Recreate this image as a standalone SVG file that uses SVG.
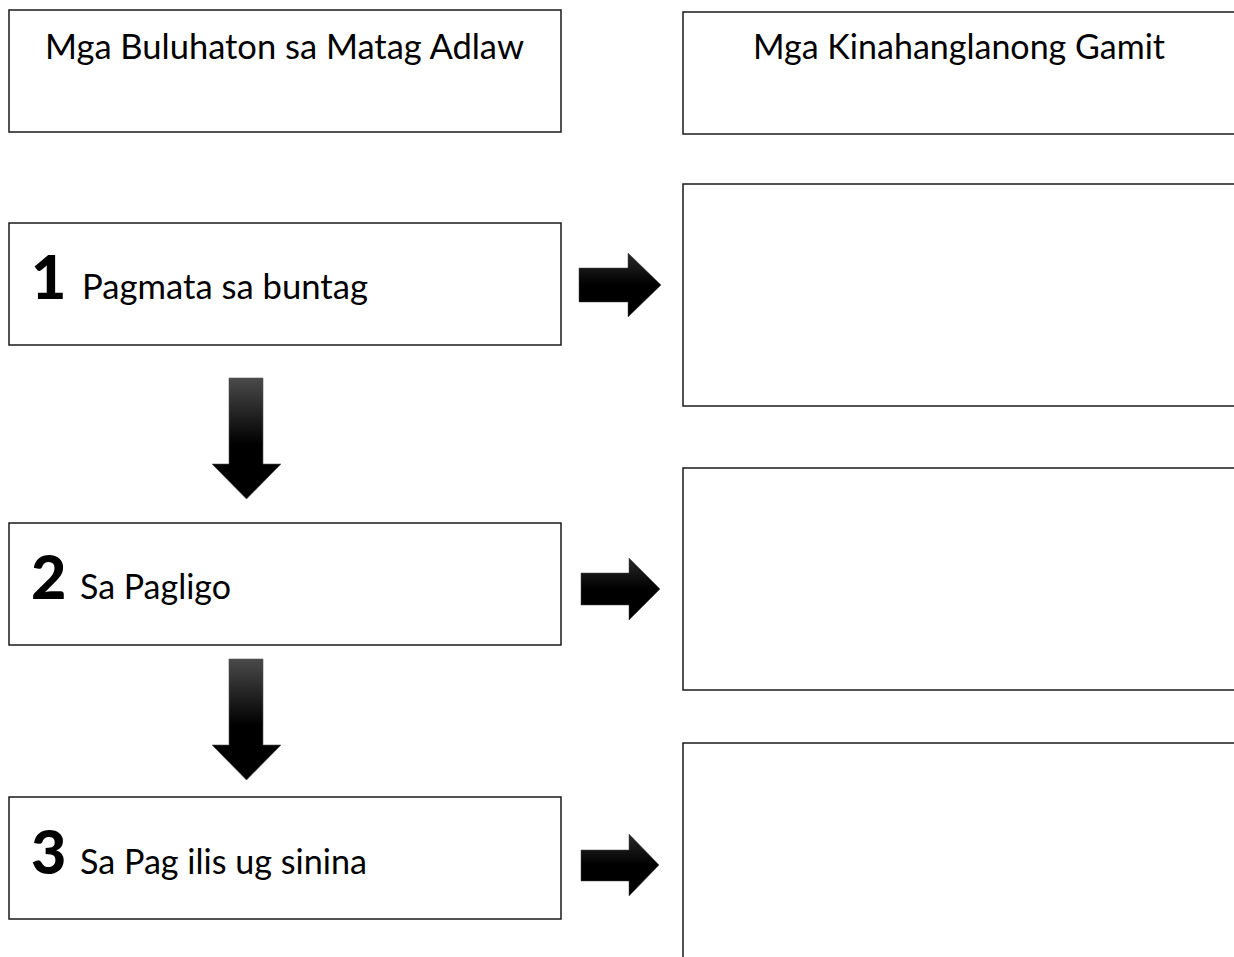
<svg xmlns="http://www.w3.org/2000/svg" width="1234" height="957" viewBox="0 0 1234 957">
<defs>
<linearGradient id="gDown" x1="0" y1="0" x2="0" y2="1">
<stop offset="0" stop-color="#4a4a4a"/>
<stop offset="0.55" stop-color="#000"/>
<stop offset="1" stop-color="#000"/>
</linearGradient>
<linearGradient id="gRight" x1="0" y1="0" x2="0" y2="1">
<stop offset="0" stop-color="#2a2a2a"/>
<stop offset="0.5" stop-color="#000"/>
<stop offset="1" stop-color="#000"/>
</linearGradient>
</defs>
<style>
.box{fill:#fff;stroke:#1a1a1a;stroke-width:1.5}
.t{font-family:Lato,"Open Sans",sans-serif;font-size:34px;fill:#000}
.n{font-family:Lato,"Open Sans",sans-serif;font-size:61px;font-weight:900;fill:#000}
.down{fill:url(#gDown);stroke:#555;stroke-width:0.6}
.right{fill:url(#gRight);stroke:#444;stroke-width:0.5}
</style>
<rect width="1234" height="957" fill="#fff"/>

<g id="header-left">
<rect class="box" x="9" y="10" width="552" height="122"/>
<text class="t" x="45" y="59" textLength="479" lengthAdjust="spacingAndGlyphs">Mga Buluhaton sa Matag Adlaw</text>
</g>
<g id="header-right">
<rect class="box" x="683" y="12" width="560" height="122"/>
<text class="t" x="753" y="59" textLength="412" lengthAdjust="spacingAndGlyphs">Mga Kinahanglanong Gamit</text>
</g>

<g id="step1">
<rect class="box" x="9" y="223" width="552" height="122"/>
<text class="n" x="31" y="299">1</text>
<text class="t" x="82" y="299" textLength="286" lengthAdjust="spacingAndGlyphs">Pagmata sa buntag</text>
</g>
<g id="step2">
<rect class="box" x="9" y="523" width="552" height="122"/>
<text class="n" x="31" y="599">2</text>
<text class="t" x="80" y="599" textLength="151" lengthAdjust="spacingAndGlyphs">Sa Pagligo</text>
</g>
<g id="step3">
<rect class="box" x="9" y="797" width="552" height="122"/>
<text class="n" x="31" y="874">3</text>
<text class="t" x="80" y="874" textLength="287" lengthAdjust="spacingAndGlyphs">Sa Pag ilis ug sinina</text>
</g>

<g id="items1">
<rect class="box" x="683" y="184" width="560" height="222"/>
</g>
<g id="items2">
<rect class="box" x="683" y="468" width="560" height="222"/>
</g>
<g id="items3">
<rect class="box" x="683" y="743" width="560" height="230"/>
</g>

<g id="connectors">
<path class="down" d="M229,378 H263 V464 H281 L246.5,499 L212,464 H229 Z"/>
<path class="down" d="M229,659 H263 V745 H281 L246.5,780 L212,745 H229 Z"/>
<path class="right" d="M579,268 H628 V253 L661,285 L628,317 V302 H579 Z"/>
<path class="right" d="M581,573 H629 V558 L660,589 L629,620 V605 H581 Z"/>
<path class="right" d="M581,850 H629 V834 L659,865 L629,896 V881 H581 Z"/>
</g>
</svg>
